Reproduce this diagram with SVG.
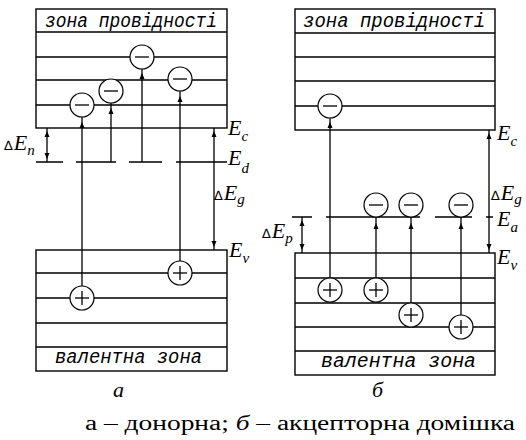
<svg xmlns="http://www.w3.org/2000/svg" xmlns:xlink="http://www.w3.org/1999/xlink" width="526" height="440" viewBox="0 0 526 440">
<style>
.ln{stroke:#000;stroke-width:1.3;fill:none}
.bx{stroke:#000;stroke-width:1.4;fill:#fff}
.cir{stroke:#000;stroke-width:1.2;fill:#fff}
.zone{font-family:"Liberation Mono",monospace;font-style:italic;font-size:20px;fill:#000}
.m{font-family:"Liberation Serif","Times New Roman",serif;font-style:italic;font-size:22px;fill:#000}
.s{font-size:15px}
.d{font-family:"DejaVu Sans",sans-serif;font-style:normal;font-size:13px}
.cap{font-family:"Liberation Serif","Times New Roman",serif;font-size:20px;fill:#000}
</style>
<defs>
<path id="au" d="M0,0 L-2.5,6 L2.5,6 Z" fill="#000"/>
<path id="ad" d="M0,0 L-2.5,-6 L2.5,-6 Z" fill="#000"/>
<g id="minus"><circle class="cir" r="12"/><line class="ln" x1="-7" y1="0" x2="7" y2="0"/></g>
<g id="plus"><circle class="cir" r="12"/><line class="ln" x1="-7" y1="0" x2="7" y2="0"/><line class="ln" x1="0" y1="-7" x2="0" y2="7"/></g>
</defs>

<!-- Panel a -->
<g id="a-conduction">
<rect class="bx" x="36" y="9" width="191" height="119"/>
<path class="ln" d="M36,32H227M36,57H227M36,80H227M36,105H227"/>
<text class="zone" x="45" y="27" textLength="172" lengthAdjust="spacingAndGlyphs">зона провідності</text>
</g>
<g id="a-valence">
<rect class="bx" x="36" y="250" width="191" height="121"/>
<path class="ln" d="M36,273H227M36,298H227M36,323H227M36,347H227"/>
<text class="zone" x="55" y="363" textLength="147" lengthAdjust="spacingAndGlyphs">валентна зона</text>
</g>
<g id="a-connectors">
<path class="ln" d="M82,117V286M111,103V162M142,69V162M180,91V261"/>
<use xlink:href="#au" x="82" y="122"/>
<use xlink:href="#au" x="111" y="108"/>
<use xlink:href="#au" x="142" y="73"/>
<use xlink:href="#au" x="180" y="96"/>
<path class="ln" d="M36,162H63M76,162H116M129,162H162M176,162H227"/>
<path class="ln" d="M47,128V162M214,128V250"/>
<use xlink:href="#au" x="47" y="131"/>
<use xlink:href="#ad" x="47" y="159"/>
<use xlink:href="#au" x="214" y="131"/>
<use xlink:href="#ad" x="214" y="247"/>
</g>
<g id="a-electrons">
<use xlink:href="#minus" x="82" y="105"/>
<use xlink:href="#minus" x="111" y="91"/>
<use xlink:href="#minus" x="142" y="57"/>
<use xlink:href="#minus" x="180" y="79"/>
</g>
<g id="a-holes">
<use xlink:href="#plus" x="82" y="298"/>
<use xlink:href="#plus" x="180" y="273"/>
</g>
<g id="a-labels">
<text class="m" x="4" y="150"><tspan class="d">∆</tspan><tspan dx="1">E</tspan><tspan class="s" dy="5">n</tspan></text>
<text class="m" x="228" y="135">E<tspan class="s" dy="6">c</tspan></text>
<text class="m" x="228" y="165">E<tspan class="s" dy="8">d</tspan></text>
<text class="m" x="214" y="200"><tspan class="d">∆</tspan><tspan dx="1">E</tspan><tspan class="s" dy="4">g</tspan></text>
<text class="m" x="229" y="257">E<tspan class="s" dy="6">v</tspan></text>
<text class="m" x="113" y="397">a</text>
</g>

<!-- Panel б -->
<g id="b-conduction">
<rect class="bx" x="295" y="9" width="200" height="121"/>
<path class="ln" d="M295,33H495M295,57H495M295,81H495M295,106H495"/>
<text class="zone" x="303" y="27" textLength="182" lengthAdjust="spacingAndGlyphs">зона провідності</text>
</g>
<g id="b-valence">
<rect class="bx" x="295" y="253" width="200" height="122"/>
<path class="ln" d="M295,278H495M295,303H495M295,327H495M295,351H495"/>
<text class="zone" x="321" y="367" textLength="155" lengthAdjust="spacingAndGlyphs">валентна зона</text>
</g>
<g id="b-connectors">
<path class="ln" d="M330,118V278M376,217V278M411,217V303M461,217V315"/>
<use xlink:href="#au" x="330" y="122"/>
<use xlink:href="#au" x="376" y="223"/>
<use xlink:href="#au" x="411" y="223"/>
<use xlink:href="#au" x="461" y="223"/>
<path class="ln" d="M292,217H312M326,217H420M435,217H472M486,217H493"/>
<path class="ln" d="M302,217V253M489,130V253"/>
<use xlink:href="#au" x="302" y="220"/>
<use xlink:href="#ad" x="302" y="250"/>
<use xlink:href="#au" x="489" y="133"/>
<use xlink:href="#ad" x="489" y="250"/>
</g>
<g id="b-electrons">
<use xlink:href="#minus" x="330" y="106"/>
<use xlink:href="#minus" x="376" y="205"/>
<use xlink:href="#minus" x="411" y="205"/>
<use xlink:href="#minus" x="461" y="205"/>
</g>
<g id="b-holes">
<use xlink:href="#plus" x="330" y="290"/>
<use xlink:href="#plus" x="376" y="290"/>
<use xlink:href="#plus" x="411" y="315"/>
<use xlink:href="#plus" x="461" y="327"/>
</g>
<g id="b-labels">
<text class="m" x="262" y="238"><tspan class="d">∆</tspan><tspan dx="1">E</tspan><tspan class="s" dy="5">p</tspan></text>
<text class="m" x="497" y="140">E<tspan class="s" dy="6">c</tspan></text>
<text class="m" x="491" y="200"><tspan class="d">∆</tspan><tspan dx="1">E</tspan><tspan class="s" dy="4">g</tspan></text>
<text class="m" x="497" y="226">E<tspan class="s" dy="6">a</tspan></text>
<text class="m" x="497" y="264">E<tspan class="s" dy="6">v</tspan></text>
<text class="m" x="372" y="397">б</text>
</g>

<g id="caption">
<text class="cap" x="85" y="430" textLength="430" lengthAdjust="spacingAndGlyphs">а – донорна; <tspan font-style="italic">б</tspan> – акцепторна домішка</text>
</g>
</svg>
